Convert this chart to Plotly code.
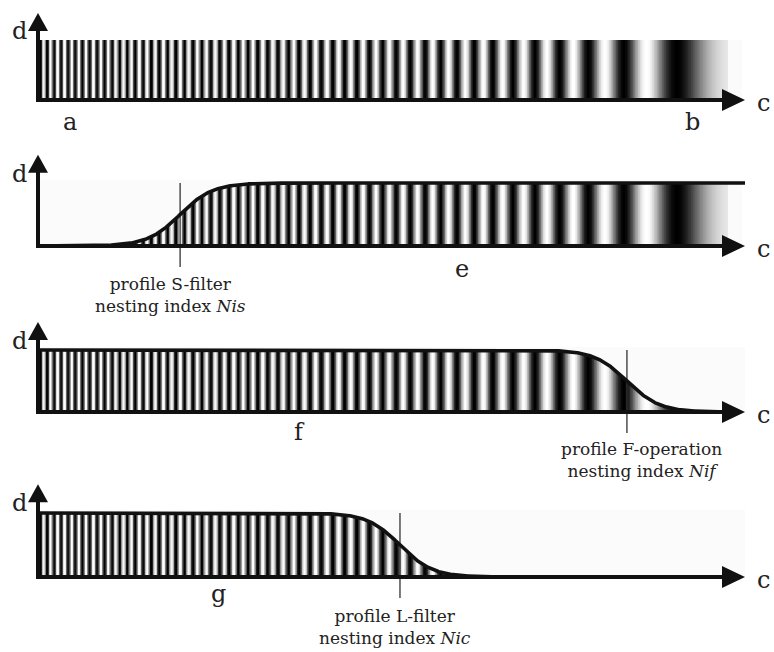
import numpy as np
import plotly.graph_objects as go

# ---------------- data ----------------
# chirp texture (short wavelengths on the left, long on the right)
chirp_rate = 0.0105        # cycles per c-unit^2
chirp_zero_c = 99.3        # c where the spatial frequency reaches zero
chirp_phase = 0.15
stripe_end_c = 97.6        # where the striped band stops

panel_letters = [["a", "b"], ["e"], ["f"], ["g"]]
letter_c = [[4.5, 92.6], [60.0], [37.0], [25.5]]
letter_d = [[-0.36, -0.36], [-0.36], [-0.33], [-0.27]]

filter_kind = [None, "rise", "fall", "fall"]
filter_cutoff_c = [None, 20.1, 83.3, 51.2]
filter_width_c = [None, 2.3, 2.3, 2.3]
filter_text = [
    None,
    "profile S-filter<br>nesting index <i>Nis</i>",
    "profile F-operation<br>nesting index <i>Nif</i>",
    "profile L-filter<br>nesting index <i>Nic</i>",
]
filter_text_c = [None, 18.7, 85.4, 50.5]

# ---------------- layout geometry (pixels) ----------------
W, H = 774, 652
K = 7.07          # px per c unit
X0PX = 38         # px of c = 0
xrange_ = [-X0PX / K, (W - X0PX) / K]
# band_top, band_bot, baseline, plateau top
geo = [(0, 140, 100, 40), (140, 316, 246, 183), (316, 484, 412, 350), (484, 652, 577, 513)]

LINE = "#111111"
FONT = "DejaVu Serif"

fig = go.Figure()
layout = dict(width=W, height=H, margin=dict(l=0, r=0, t=0, b=0),
              paper_bgcolor="white", plot_bgcolor="rgba(0,0,0,0)",
              showlegend=False)
annotations = []
shapes = []

step = 0.1
edges = np.arange(0, stripe_end_c + step / 2, step)
mids = (edges[:-1] + edges[1:]) / 2
cycles = chirp_rate * (chirp_zero_c * mids - mids ** 2 / 2) + chirp_phase
zrow = np.round(0.5 + 0.5 * np.cos(2 * np.pi * cycles), 3)

for i, (bt, bb, base, top) in enumerate(geo):
    s = base - top
    sfx = "" if i == 0 else str(i + 1)
    xa, ya = "x" + sfx, "y" + sfx
    layout["xaxis" + sfx] = dict(domain=[0, 1], range=xrange_, visible=False, fixedrange=True,
                                 anchor=ya)
    layout["yaxis" + sfx] = dict(domain=[1 - bb / H, 1 - bt / H],
                                 range=[(base - bb) / s, (base - bt) / s],
                                 visible=False, fixedrange=True, anchor=xa)
    tip_d = 1.45
    # faint background
    shapes.append(dict(type="rect", xref=xa, yref=ya, x0=0, x1=99.6, y0=0, y1=1,
                       fillcolor="#fbfbfb", line=dict(width=0), layer="below"))
    # stripes
    fig.add_trace(go.Heatmap(x=edges, y=[0, 1], z=[zrow], zmin=0, zmax=1,
                             colorscale=[[0, "#000000"], [1, "#ffffff"]], showscale=False,
                             xaxis=xa, yaxis=ya, hoverinfo="skip"))
    kind = filter_kind[i]
    if kind is not None:
        cc = np.linspace(0, 100, 1200)
        sig = 1 / (1 + np.exp(-(cc - filter_cutoff_c[i]) / filter_width_c[i]))
        if kind == "fall":
            sig = 1 - sig
        # mask above the curve
        mx = np.concatenate([cc, [100, 0, 0]])
        my = np.concatenate([sig, [1.05, 1.05, sig[0]]])
        fig.add_trace(go.Scatter(x=mx, y=my, fill="toself", fillcolor="#fbfbfb",
                                 line=dict(width=0), mode="lines", xaxis=xa, yaxis=ya,
                                 hoverinfo="skip"))
        # filter marker line
        fig.add_trace(go.Scatter(x=[filter_cutoff_c[i]] * 2, y=[1, -21 / s],
                                 mode="lines", line=dict(color="#333333", width=1.3),
                                 xaxis=xa, yaxis=ya, hoverinfo="skip"))
        # curve
        ccut = cc <= 100 - 23 / K if kind == "fall" else cc <= 100
        fig.add_trace(go.Scatter(x=cc[ccut], y=sig[ccut], mode="lines",
                                 line=dict(color=LINE, width=3.6), xaxis=xa, yaxis=ya,
                                 hoverinfo="skip"))
        annotations.append(dict(x=filter_text_c[i], y=-0.78, xref=xa, yref=ya,
                                text=filter_text[i], showarrow=False,
                                font=dict(family=FONT, size=17, color="#222222"),
                                align="center", xanchor="center", yanchor="middle"))
    # axes lines
    fig.add_trace(go.Scatter(x=[0, 0, 100 - 22 / K], y=[tip_d - 16 / s, 0, 0], mode="lines",
                             line=dict(color=LINE, width=4), xaxis=xa, yaxis=ya,
                             hoverinfo="skip"))
    # arrow heads
    fig.add_trace(go.Scatter(x=[-10 / K, 10 / K, 0, -10 / K],
                             y=[tip_d - 18 / s, tip_d - 18 / s, tip_d, tip_d - 18 / s],
                             fill="toself", fillcolor=LINE, line=dict(width=0, color=LINE),
                             mode="lines", xaxis=xa, yaxis=ya, hoverinfo="skip"))
    fig.add_trace(go.Scatter(x=[100 - 23 / K, 100 - 23 / K, 100, 100 - 23 / K],
                             y=[11 / s, -11 / s, 0, 11 / s],
                             fill="toself", fillcolor=LINE, line=dict(width=0, color=LINE),
                             mode="lines", xaxis=xa, yaxis=ya, hoverinfo="skip"))
    # axis letters
    annotations.append(dict(x=-2.6, y=tip_d - 0.3, xref=xa, yref=ya, text="d", showarrow=False,
                            font=dict(family=FONT, size=24, color="#222222")))
    annotations.append(dict(x=102.6, y=-0.05, xref=xa, yref=ya, text="c", showarrow=False,
                            font=dict(family=FONT, size=24, color="#222222")))
    for lt, lc, ld in zip(panel_letters[i], letter_c[i], letter_d[i]):
        annotations.append(dict(x=lc, y=ld, xref=xa, yref=ya, text=lt, showarrow=False,
                                font=dict(family=FONT, size=24, color="#222222")))

layout["annotations"] = annotations
layout["shapes"] = shapes
fig.update_layout(**layout)
fig.write_html("out.html", config={"displayModeBar": False},
               post_script="document.body.style.margin='0';document.body.style.padding='0';")
